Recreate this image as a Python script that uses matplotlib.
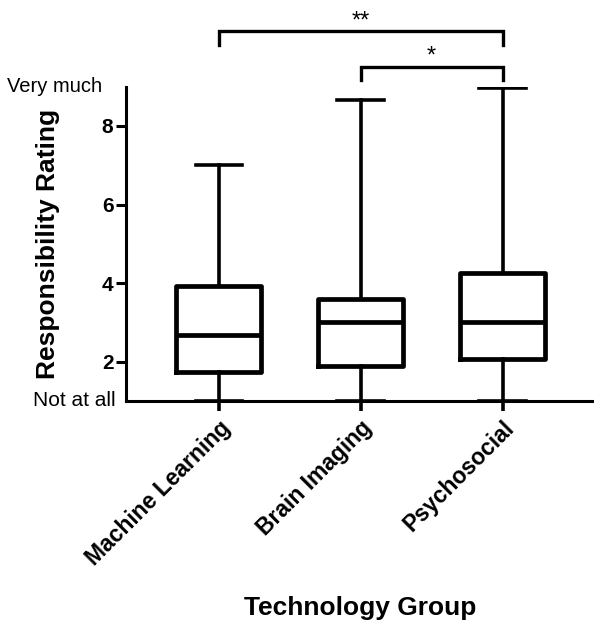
import numpy as np
import matplotlib
matplotlib.use("Agg")
import matplotlib.pyplot as plt

plt.rcParams['font.family'] = ['Liberation Sans', 'DejaVu Sans']

groups = ["Machine Learning", "Brain Imaging", "Psychosocial"]
# whisker low, q1, median, q3, whisker high
wlo = [1.0, 1.0, 1.0]
q1 = [1.74, 1.9, 2.07]
med = [2.67, 3.0, 3.0]
q3 = [3.92, 3.6, 4.25]
whi = [7.0, 8.66, 8.96]

stats = []
for i in range(len(groups)):
    stats.append(dict(label=groups[i], whislo=wlo[i], q1=q1[i], med=med[i],
                      q3=q3[i], whishi=whi[i], fliers=[]))

fig = plt.figure(figsize=(5.94, 6.24), dpi=100)
ax = fig.add_axes([126/594, (624-401)/624, 1-126/594, (401-86.7)/624])

pos = np.arange(len(groups))
ax.bxp(stats, positions=pos, widths=0.6, showfliers=False,
       boxprops=dict(color='black', linewidth=3.4),
       medianprops=dict(color='black', linewidth=3.4),
       whiskerprops=dict(color='black', linewidth=2.6),
       capprops=dict(color='black', linewidth=2.6),
       capwidths=0.33)

ax.set_xlim(-0.655, 2.644)
ax.set_ylim(1, 9)
ax.set_yticks([2, 4, 6, 8])
ax.set_yticklabels(["2", "4", "6", "8"], fontsize=15, fontweight='bold')
ax.set_xticks(pos)
ax.set_xticklabels(groups, rotation=45, ha='right', rotation_mode='anchor',
                   fontsize=16.5, fontweight='bold')
ax.tick_params(axis='y', width=2.2, length=7, pad=2)
ax.tick_params(axis='x', width=2.6, length=7, pad=4)

for s in ['top', 'right']:
    ax.spines[s].set_visible(False)
ax.spines['left'].set_linewidth(2.2)
ax.spines['bottom'].set_linewidth(2.2)

ax.set_ylabel("Responsibility Rating", fontsize=19, fontweight='bold')
ax.yaxis.set_label_coords(-0.14, 0.5)
ax.set_xlabel("Technology Group", fontsize=19, fontweight='bold')
ax.xaxis.set_label_coords(0.5, -0.622)

ax.text(-0.05, 9, "Very much", transform=ax.get_yaxis_transform(), ha='right',
        va='center', fontsize=14.5)
ax.text(-0.022, 1, "Not at all", transform=ax.get_yaxis_transform(), ha='right',
        va='center', fontsize=15)

# significance brackets
brackets = [(0, 2, 10.41, 10.06, "**"), (1, 2, 9.51, 9.17, "*")]
for x0, x1, yt, yb, lbl in brackets:
    ax.plot([x0, x0, x1, x1], [yb, yt, yt, yb], color='black', linewidth=2.4,
            clip_on=False, solid_joinstyle='miter')
    ax.text((x0 + x1) / 2, yt + 0.1, lbl, ha='center', va='baseline',
            fontsize=17, clip_on=False)

fig.savefig("out.png", dpi=100)
